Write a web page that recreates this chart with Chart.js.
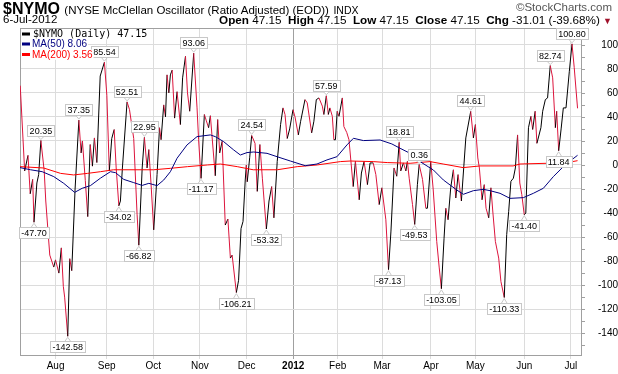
<!DOCTYPE html>
<html>
<head>
<meta charset="utf-8">
<script src="https://cdn.jsdelivr.net/npm/chart.js@4.4.1/dist/chart.umd.min.js"></script>
<style>
body{margin:0;background:#fff;width:618px;height:374px;overflow:hidden;position:relative;font-family:"Liberation Sans",Arial,sans-serif}
.t{position:absolute;white-space:nowrap;line-height:13px;color:#000}
</style>
</head>
<body>
<canvas id="c" width="618" height="374" style="position:absolute;left:0;top:0"></canvas>
<div class="t" style="left:3px;top:2px"><b style="font-size:16px">$NYMO</b> <span style="font-size:11.5px">(NYSE McClellan Oscillator (Ratio Adjusted) (EOD))</span> <span style="font-size:10.5px">INDX</span></div>
<div class="t" style="right:6px;top:1px;font-size:11.5px;color:#555">©StockCharts.com</div>
<div class="t" style="left:3px;top:13px;font-size:11.5px">6-Jul-2012</div>
<div class="t" style="right:6px;top:13px;font-size:11.7px"><b>Open</b> 47.15 &nbsp;<b>High</b> 47.15 &nbsp;<b>Low</b> 47.15 &nbsp;<b>Close</b> 47.15 &nbsp;<b>Chg</b> -31.01 (-39.68%) <span style="color:#a0102a;font-size:9px">▼</span></div>
<script>

// month ticks (trading day index from 8-Jul-2011)
const monthIdx = [16,39,60,81,102,123,143,163,185,205,227,248]
const monthLabels = ["Aug","Sep","Oct","Nov","Dec","2012","Feb","Mar","Apr","May","Jun","Jul"]
const yTicks = [100,80,60,40,20,0,-20,-40,-60,-80,-100,-120,-140]

// $NYMO daily, turning points
const nymoDay = [0.1,2.1,3.6,4.6,5.7,6.3,7.6,8.4,9.4,10.9,
11.6,13.4,15.2,16.0,17.5,18.6,19.5,20.1,21.5,22.4,
23.3,24.8,26.5,27.5,28.1,29.4,30.5,31.6,32.6,33.5,
34.6,36.1,38.0,39.1,40.2,41.3,42.4,43.3,44.5,45.2,
46.1,48.2,49.3,51.2,52.7,53.5,55.0,56.0,57.2,58.0,
59.0,60.2,61.7,62.8,63.5,64.7,65.5,66.2,67.0,67.7,
68.5,69.6,70.7,72.2,73.2,74.5,75.4,76.4,78.2,79.7,
80.4,81.5,83.0,83.9,84.9,85.7,87.9,89.0,89.9,91.0,
92.4,93.6,94.7,95.5,97.4,98.4,99.5,100.4,101.4,101.9,
102.3,103.4,104.3,105.8,106.8,108.0,109.1,109.8,110.9,112.1,
113.3,114.3,115.8,117.3,118.4,119.3,120.3,121.4,122.9,123.8,
125.3,126.3,128.3,129.3,131.3,132.3,133.4,134.6,136.1,136.8,
137.9,138.8,139.5,140.6,141.3,142.0,142.8,143.6,145.1,145.8,
147.1,148.1,150.0,151.0,152.7,153.7,154.9,156.4,157.6,159.0,
160.2,161.7,162.9,164.7,165.9,167.0,168.4,169.6,170.7,171.4,
172.6,173.7,174.4,175.2,176.7,177.7,178.9,179.7,181.2,182.7,
183.4,184.9,186.0,187.6,188.7,189.7,190.9,191.7,192.7,193.9,
195.1,196.2,197.2,198.7,200.7,202.9,204.1,205.0,206.1,206.8,
208.0,209.0,209.8,211.0,212.0,212.9,214.0,215.5,216.5,218.0,
219.1,220.0,221.0,222.1,223.0,224.0,225.0,225.9,227.0,227.7,
228.9,230.0,230.8,231.9,232.7,234.5,235.3,236.5,237.5,238.7,
239.8,241.0,241.6,242.5,243.6,244.6,245.8,247.3,248.5,249.5,
251.0]

const nymoVal = [66,-5,8,-24,-12,-47.70,-15,-8,20.35,-5,
-30,-75,-85,-79,-90,-69,-101,-110,-142.58,-78,
-88,-20,37.35,10,20,-13,-43,17,-1,22.5,
2,74,85.54,58,-5,22,29.5,-2.5,-34.02,-30,
-2.5,52.51,46,22,-41,-66.82,-2.5,22.95,-2.5,12.8,
-16,-54,-8,31,21,50,40,75,60,75,
79,39,61,33.6,72.5,90.5,60,44.7,93.06,47.5,
21,-11.17,42,36.7,31,41,-9,37.8,10,19.7,
-50,-45,-77.5,-75,-106.21,-96,-53,-47,-12.5,0,
-14,6,24.54,18,-22,17,-11,-27.5,-53.32,-30,
-18,-44,3,33.6,47.5,42,22,30,46,40,
25,36,54.4,51.7,26.7,36.4,54.4,55.8,49,42,
57.59,42,47.5,40.5,21,21,44.7,40.5,55.8,32,
27,21,-18,3,-29,-6.7,3,-16.4,1.7,1.7,
-8,-33,-19,-45.6,-87.13,-55,-2.5,-9.4,18.81,-5,
1.7,-5,3,-11,-33,-49.53,-16.4,0.36,-12,-36,
-36,3,-20,-63.6,-85,-103.05,-61,-36,-45.6,-19,
-4,-27.5,-8,-30,22.5,44.61,22.5,33.6,5.8,-2.5,
-29,-16.4,-36,-44,-19,-40,-63.6,-77.5,-97,-110.33,
-58,-38.6,-13.6,-11,-2.5,25,-15,-24.7,-41.40,-40,
31,40.5,29.5,44.7,18,31,44.7,54.4,55.8,82.74,
72.5,31,44.7,11.84,30,47.5,47.5,78,100.80,81,
47.15]

const ma50Day = [0,4.8,10,15.2,19.7,24.6,28,31.7,36.2,40.7,43,46.7,51.2,55,58,61.7,64.7,67.7,70.7,75.2,
79.7,85.7,87.9,91.7,96.2,99.2,102.2,105.2,111.2,115.7,121.7,128.4,133.7,138.2,142.7,147.2,150.1,154.6,162.1,167.4,
171.1,175.6,180.1,186.1,190.6,196.6,199.6,204.1,208.6,211.6,216.1,220.6,226.6,231.1,235.6,240.1,244.6,248.3,251]
const ma50Val = [-2.2,-4,-5.6,-9.7,-15.3,-22.8,-19.4,-17.2,-11,-5.6,-6.4,-12,-14.7,-17,-15.3,-17.2,-12.5,-5.6,5.6,16.7,
23.6,25,23.6,19.4,12.5,8.3,10.3,10.8,9.7,6.9,3.3,-0.6,0.8,4.2,6.9,16.7,22.2,20.3,20.8,17.5,
13.9,9.7,2.8,-4.2,-12.5,-20.8,-24.4,-21.4,-20.3,-21.4,-23.6,-27.8,-27.2,-23.6,-19.4,-9.7,-1.4,4.2,8.06]

const ma200Day = [0,10.6,18.3,24.1,30.4,36.2,42.1,60.1,67.7,75.4,84.4,90.2,97.8,105,115.8,124.8,133.8,144.2,148.7,159,
165.3,175.6,184.6,190.5,199.5,207.1,222,225.1,237.2,246.2,251]
const ma200Val = [-1.4,-2.5,-7,-8.3,-7,-5.6,-4,-4,-2.8,-1.4,0,0.8,-1.4,-4,-4,-1.4,0,2.8,3.3,2.8,
2,1.4,2.8,0.8,-2.2,-0.8,-0.8,0.8,1.4,2,3.56]

// labelled highs and lows
const marks = [20.35,-47.70,-142.58,37.35,85.54,-34.02,52.51,-66.82,22.95,93.06,-11.17,-106.21,24.54,-53.32,
57.59,-87.13,18.81,0.36,-49.53,-103.05,44.61,-110.33,-41.40,82.74,11.84,100.80]
const markSide = ["up","down","down","up","up","down","up","down","up","up","down","down","up","down",
"up","down","up","up","down","down","up","down","down","up","down","up"]

function pts(days,vals){
return days.map((d,i)=>({x:d,y:vals[i]}))
}

function last(a){
return a[a.length-1].toFixed(2)
}

const framePlugin = {
id:"frame",
beforeDatasetsDraw(chart){
const ctx=chart.ctx
const a=chart.chartArea
const y=chart.scales.y
ctx.save()
ctx.strokeStyle="#a0a0a0"
ctx.lineWidth=1
ctx.strokeRect(a.left+0.5,a.top+0.5,a.right-a.left-1,a.bottom-a.top-1)
ctx.beginPath()
for(let v=Math.ceil(y.min/10)*10; v<=y.max; v+=10){
const py=Math.round(y.getPixelForValue(v))+0.5
ctx.moveTo(a.right,py)
ctx.lineTo(a.right+3,py)
}
ctx.stroke()
ctx.restore()
}
}

const markPlugin = {
id:"marks",
afterDatasetsDraw(chart){
const ctx=chart.ctx
const xs=chart.scales.x
const ys=chart.scales.y
ctx.save()
ctx.font="9px 'Liberation Sans'"
ctx.textAlign="center"
ctx.textBaseline="middle"
ctx.lineWidth=1
marks.forEach((v,i)=>{
const k=nymoVal.indexOf(v)
const px=xs.getPixelForValue(nymoDay[k])
const py=ys.getPixelForValue(v)
const txt=v.toFixed(2)
const w=Math.round(ctx.measureText(txt).width)+4
const h=11
const up=markSide[i]==="up"
const bx=Math.round(px-w/2)+0.5
const by=up ? Math.round(py-5-h)+0.5 : Math.round(py+5)+0.5
const edge=up ? by+h : by
ctx.beginPath()
ctx.moveTo(px-3,edge)
ctx.lineTo(px,up ? py-1 : py+1)
ctx.lineTo(px+3,edge)
ctx.fillStyle="#fff"
ctx.fill()
ctx.strokeStyle="#c8c8c8"
ctx.stroke()
ctx.fillRect(bx,by,w,h)
ctx.strokeRect(bx,by,w,h)
ctx.fillStyle="#000"
ctx.fillText(txt,px,by+h/2+0.5)
})
ctx.restore()
}
}

const legendPlugin = {
id:"box",
afterDraw(chart){
const ctx=chart.ctx
const rows=[
{txt:"$NYMO (Daily) "+last(nymoVal),color:"#000",font:"10px 'DejaVu Sans Mono'",x:33,y:37},
{txt:"MA(50) "+last(ma50Val),color:"#000080",font:"10px 'Liberation Sans'",x:32,y:47},
{txt:"MA(200) "+last(ma200Val),color:"#ff0000",font:"10px 'Liberation Sans'",x:32,y:57.5}
]
ctx.save()
rows.forEach(r=>{
ctx.font=r.font
const w=ctx.measureText(r.txt).width
ctx.fillStyle="#fff"
ctx.fillRect(21,r.y-8,r.x-21+w+1,10.3)
ctx.fillStyle=r.color
ctx.fillRect(22,r.y-4.5,8,3)
ctx.textBaseline="alphabetic"
ctx.fillText(r.txt,r.x,r.y)
})
ctx.restore()
}
}

Chart.defaults.font.family="'Liberation Sans', Arial, sans-serif"
Chart.defaults.color="#000"

new Chart(document.getElementById("c"),{

type:"line",

data:{
datasets:[
{
label:"MA(50)",
data:pts(ma50Day,ma50Val),
borderColor:"#000080",
borderWidth:1,
pointRadius:0
},
{
label:"MA(200)",
data:pts(ma200Day,ma200Val),
borderColor:"#ff0000",
borderWidth:1,
pointRadius:0
},
{
label:"$NYMO",
data:pts(nymoDay,nymoVal),
borderWidth:1,
pointRadius:0,
segment:{
borderColor:c=>c.p1.parsed.y>=c.p0.parsed.y ? "#000" : "#dc143c"
}
}
]
},

options:{
responsive:false,
animation:false,
devicePixelRatio:1,
layout:{padding:{left:20,top:28,right:0,bottom:0}},
plugins:{legend:{display:false},tooltip:{enabled:false}},
scales:{
x:{
type:"linear",
min:0,
max:253,
afterBuildTicks:s=>{s.ticks=monthIdx.map(v=>({value:v}))},
afterFit:s=>{s.height=18},
border:{display:false},
grid:{
color:c=>monthLabels[c.index]==="2012" ? "#a0a0a0" : "#dcdcdc",
tickLength:3
},
ticks:{
autoSkip:false,
maxRotation:0,
padding:1,
font:c=>({size:10,weight:monthLabels[c.index]==="2012" ? "bold" : "normal"}),
callback:(v,i)=>monthLabels[i]
}
},
y:{
position:"right",
min:-159,
max:114,
afterBuildTicks:s=>{s.ticks=yTicks.map(v=>({value:v}))},
afterFit:s=>{s.width=36},
border:{display:false},
grid:{color:"#dcdcdc",drawTicks:false},
ticks:{
padding:3,
crossAlign:"far",
font:{size:10},
callback:v=>v
}
}
}
},

plugins:[framePlugin,markPlugin,legendPlugin]

})

</script>
</body>
</html>
